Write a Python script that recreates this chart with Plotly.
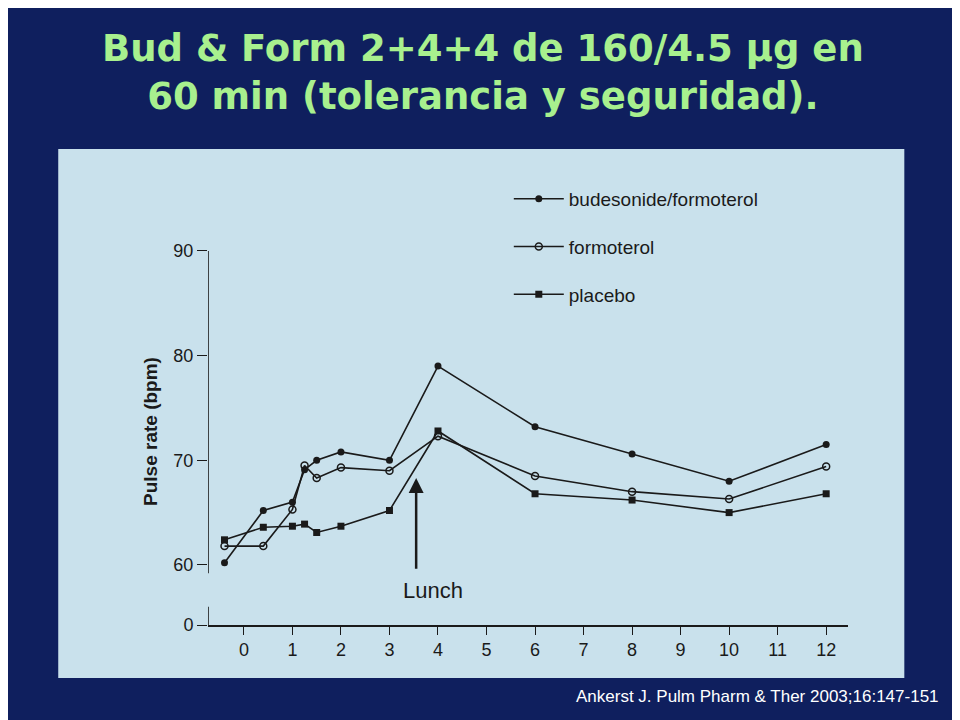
import plotly.graph_objects as go

hours = [-0.4, 0.4, 1, 1.25, 1.5, 2, 3, 4, 6, 8, 10, 12]
bud_form = [60.2, 65.2, 66.0, 69.1, 70.0, 70.8, 70.0, 79.0, 73.2, 70.6, 68.0, 71.5]
formoterol = [61.8, 61.8, 65.3, 69.5, 68.3, 69.3, 69.0, 72.3, 68.5, 67.0, 66.3, 69.4]
placebo = [62.4, 63.6, 63.7, 63.9, 63.1, 63.7, 65.2, 72.8, 66.8, 66.2, 65.0, 66.8]

x_ticks = list(range(0, 13))
zero_pos = 54.26  # broken axis: 0 drawn just below 60
y_tickvals = [zero_pos, 60, 70, 80, 90]
y_ticktext = ["0", "60", "70", "80", "90"]

ink = "#1a1a1a"
fig = go.Figure()
fig.add_trace(go.Scatter(x=hours, y=bud_form, name="budesonide/formoterol", mode="lines+markers", legendgroup="a",
                         line=dict(color=ink, width=1.6), marker=dict(symbol="circle", size=7, color=ink)))
fig.add_trace(go.Scatter(x=hours, y=formoterol, name="formoterol", mode="lines+markers", legendgroup="b",
                         line=dict(color=ink, width=1.6),
                         marker=dict(symbol="circle-open", size=7, color=ink, line=dict(width=1.5))))
fig.add_trace(go.Scatter(x=hours, y=placebo, name="placebo", mode="lines+markers", legendgroup="c",
                         line=dict(color=ink, width=1.6), marker=dict(symbol="square", size=7, color=ink)))

# light-blue scanned panel
fig.add_shape(type="rect", xref="paper", yref="paper", x0=-0.234, x1=1.088, y0=-0.137, y1=1.23,
              fillcolor="#c9e1ec", line=dict(width=0), layer="below")
# broken y axis line
fig.add_shape(type="line", xref="x", yref="y", x0=-0.74, x1=-0.74, y0=zero_pos, y1=56.0, line=dict(color=ink, width=1.6))
fig.add_shape(type="line", xref="x", yref="y", x0=-0.74, x1=-0.74, y0=59.2, y1=90, line=dict(color=ink, width=1.6))
fig.add_shape(type="line", xref="x", yref="y", x0=-0.95, x1=-0.74, y0=56.0, y1=56.0, line=dict(color=ink, width=1.6))

fig.add_annotation(x=3.55, y=68.3, ax=3.55, ay=59.5, axref="x", ayref="y", text="",
                   showarrow=True, arrowhead=2, arrowsize=1.2, arrowwidth=2.5, arrowcolor=ink)
fig.add_annotation(x=3.9, y=57.6, text="Lunch", showarrow=False, font=dict(size=22, color=ink, family="Liberation Sans"))

fig.add_annotation(xref="paper", yref="paper", x=0.43, y=1.55, text="<b>Bud & Form 2+4+4 de 160/4.5 µg en<br>60 min (tolerancia y seguridad).</b>",
                   showarrow=False, font=dict(size=37, color="#a8f08e", family="DejaVu Sans"), yanchor="top")
fig.add_annotation(xref="paper", yref="paper", x=1.145, y=-0.215, xanchor="right", text="Ankerst J. Pulm Pharm & Ther 2003;16:147-151",
                   showarrow=False, font=dict(size=17, color="white", family="Liberation Sans"))

fig.update_layout(
    width=960, height=720,
    margin=dict(l=200, r=120, t=230, b=103),
    paper_bgcolor="#0f1f5e", plot_bgcolor="rgba(0,0,0,0)",
    font=dict(family="Liberation Sans", color=ink),
    showlegend=True,
    legend=dict(x=0.47, y=1.15, xanchor="left", yanchor="top", bgcolor="rgba(0,0,0,0)",
                font=dict(size=19, color=ink), tracegroupgap=20, itemwidth=50),
    xaxis=dict(range=[-0.74, 12.45], tickvals=x_ticks, showgrid=False, zeroline=False,
               showline=True, linecolor=ink, linewidth=1.6, ticks="outside", ticklen=8,
               tickcolor=ink, tickfont=dict(size=18, color=ink)),
    yaxis=dict(range=[zero_pos, 91.24], tickvals=y_tickvals, ticktext=y_ticktext, showgrid=False,
               zeroline=False, showline=False, ticks="outside", ticklen=10, tickcolor=ink,
               tickfont=dict(size=18, color=ink),
               title=dict(text="<b>Pulse rate (bpm)</b>", font=dict(size=19, color=ink), standoff=10)),
)

fig.write_html("out.html")
